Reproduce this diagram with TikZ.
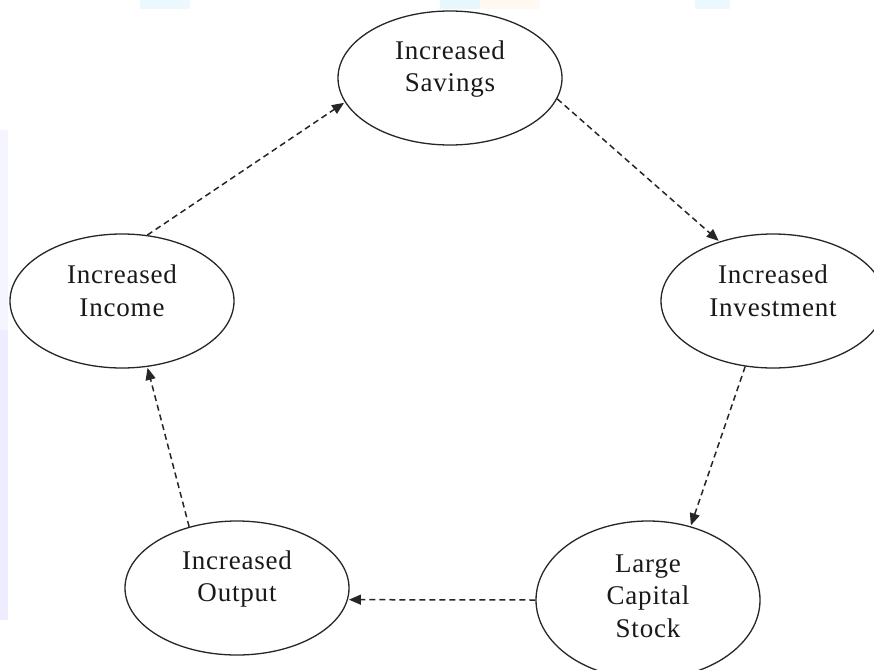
\documentclass[tikz,border=0pt]{standalone}
\usepackage{fontspec}
\setmainfont{Liberation Serif}[LetterSpace=3]
\usetikzlibrary{shapes.geometric,arrows.meta}
\tikzset{
  ell/.style={draw=black!85, line width=1.3pt, ellipse, inner sep=0pt, minimum width=224pt, minimum height=134pt},
  txt/.style={align=center, font=\fontsize{27}{32.5}\selectfont, text=black!90, inner sep=0pt},
  flow/.style={draw=black!85, line width=1.5pt, dash pattern=on 6pt off 4pt, -{Triangle[length=12pt,width=10pt]}, shorten >=1pt}
}
\begin{document}
\begin{tikzpicture}[x=1pt,y=-1pt]
\useasboundingbox (0,0) rectangle (874,669);
\clip (0,0) rectangle (874,669);
\fill[white] (0,0) rectangle (874,669);
% faint watermark traces
\fill[cyan!8] (140,0) rectangle (190,9);
\fill[cyan!10] (440,0) rectangle (480,9);
\fill[orange!5] (480,0) rectangle (540,9);
\fill[cyan!8] (695,0) rectangle (730,9);
\fill[blue!4] (0,130) rectangle (8,330);
\fill[blue!7] (0,330) rectangle (8,620);
% ellipses
\node[ell] (sav) at (450,78) {};
\node[ell] (inv) at (773,301) {};
\node[ell, minimum height=158pt] (cap) at (648,600) {};
\node[ell] (out) at (237,588) {};
\node[ell] (inc) at (122,301) {};
% texts
\node[txt] (savt) at ([yshift=9pt]sav.center) {Increased\\Savings};
\node[txt] (invt) at ([yshift=10pt]inv.center) {Increased\\Investment};
\node[txt] (capt) at ([yshift=4pt]cap.center) {Large\\Capital\\Stock};
\node[txt] (outt) at ([yshift=9pt]out.center) {Increased\\Output};
\node[txt] (inct) at ([yshift=10pt]inc.center) {Increased\\Income};
% connectors
\draw[flow] (inc.69) -- (sav.193);
\draw[flow] (sav.-11) -- (inv.132);
\draw[flow] (inv.247) -- (cap.60);
\draw[flow] (cap.180) -- (out.-6);
\draw[flow] (out.128) -- (inc.-69);
\end{tikzpicture}
\end{document}
